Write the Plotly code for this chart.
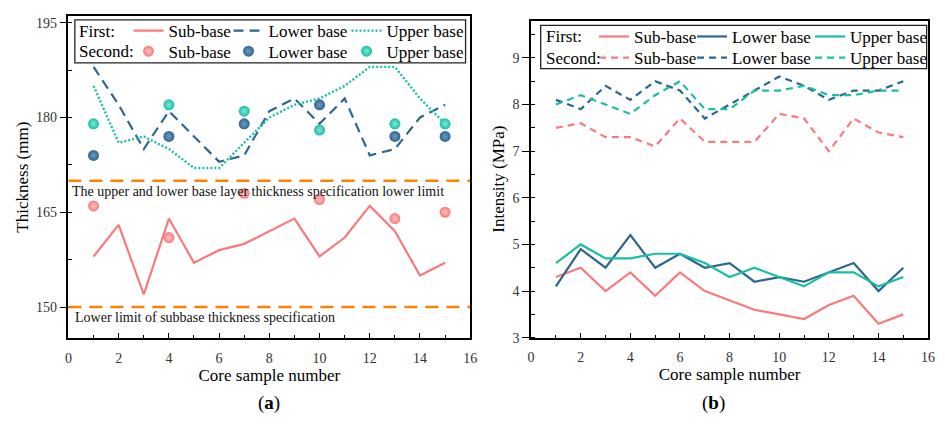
import plotly.graph_objects as go

W, H = 945, 424
FONT = "Liberation Serif, Times New Roman, serif"

# ---------------- data ----------------
samples = list(range(1, 16))
second_samples = [1, 4, 7, 10, 13, 15]

# Panel (a): thickness (mm)
thk_first_sub = [158, 163, 152, 164, 157, 159, 160, 162, 164, 158, 161, 166, 162, 155, 157]
thk_first_lower = [188, 182, 175, 181, 177, 173, 174, 181, 183, 179, 183, 174, 175, 180, 182]
thk_first_upper = [185, 176, 177, 175, 172, 172, 176, 180, 182, 183, 185, 188, 188, 183, 179]
thk_second_sub = [166, 161, 168, 167, 164, 165]
thk_second_lower = [174, 177, 179, 182, 177, 177]
thk_second_upper = [179, 182, 181, 178, 179, 179]
spec_upper_lower = 170
spec_subbase = 150
spec_upper_lower_text = "The upper and lower base layer thickness specification lower limit"
spec_subbase_text = "Lower limit of subbase thickness specification"

# Panel (b): intensity (MPa)
int_first_sub = [4.3, 4.5, 4.0, 4.4, 3.9, 4.4, 4.0, 3.8, 3.6, 3.5, 3.4, 3.7, 3.9, 3.3, 3.5]
int_first_lower = [4.1, 4.9, 4.5, 5.2, 4.5, 4.8, 4.5, 4.6, 4.2, 4.3, 4.2, 4.4, 4.6, 4.0, 4.5]
int_first_upper = [4.6, 5.0, 4.7, 4.7, 4.8, 4.8, 4.6, 4.3, 4.5, 4.3, 4.1, 4.4, 4.4, 4.1, 4.3]
int_second_sub = [7.5, 7.6, 7.3, 7.3, 7.1, 7.7, 7.2, 7.2, 7.2, 7.8, 7.7, 7.0, 7.7, 7.4, 7.3]
int_second_lower = [8.1, 7.9, 8.4, 8.1, 8.5, 8.3, 7.7, 8.0, 8.3, 8.6, 8.4, 8.1, 8.3, 8.3, 8.5]
int_second_upper = [8.0, 8.2, 8.0, 7.8, 8.2, 8.5, 7.9, 7.9, 8.3, 8.3, 8.4, 8.2, 8.2, 8.3, 8.3]

series_names = ["Sub-base", "Lower base", "Upper base"]
row_labels = ["First:", "Second:"]

# ---------------- style ----------------
PINK = "#F87A7C"
BLUE = "#2D6690"
TEAL = "#19BFA4"
ORANGE = "#FF8000"
PINK_HI = "#FFC4C4"
BLUE_HI = "#6E9CC2"
TEAL_HI = "#7FE8D6"


def px(x):
    return x / W


def py(y):
    return 1 - y / H


fig = go.Figure()

# ---- panel (a) ----
lw_a = [55, 73, 80]
fig.add_trace(go.Scatter(x=samples, y=thk_first_sub, name=series_names[0], mode="lines",
                         line=dict(color=PINK, width=2.2), legend="legend", legendwidth=lw_a[0],
                         xaxis="x", yaxis="y"))
fig.add_trace(go.Scatter(x=samples, y=thk_first_lower, name=series_names[1], mode="lines",
                         line=dict(color=BLUE, width=2.2, dash="10px,6px"), legend="legend",
                         legendwidth=lw_a[1], xaxis="x", yaxis="y"))
fig.add_trace(go.Scatter(x=samples, y=thk_first_upper, name=series_names[2], mode="lines",
                         line=dict(color=TEAL, width=2.4, dash="2px,2px"), legend="legend",
                         legendwidth=lw_a[2], xaxis="x", yaxis="y"))
for vals, col, hi, i in [(thk_second_sub, PINK, PINK_HI, 0), (thk_second_lower, BLUE, BLUE_HI, 1),
                         (thk_second_upper, TEAL, TEAL_HI, 2)]:
    fig.add_trace(go.Scatter(x=second_samples, y=vals, name=series_names[i], mode="markers",
                             marker=dict(color=col, size=11, line=dict(width=0),
                                         gradient=dict(type="radial", color=hi)),
                             legend="legend2", legendwidth=lw_a[i], xaxis="x", yaxis="y"))

# ---- panel (b) ----
lw_b = [53, 73, 80]
for vals, col, i in [(int_first_sub, PINK, 0), (int_first_lower, BLUE, 1), (int_first_upper, TEAL, 2)]:
    fig.add_trace(go.Scatter(x=samples, y=vals, name=series_names[i], mode="lines",
                             line=dict(color=col, width=2.2), legend="legend3", legendwidth=lw_b[i],
                             xaxis="x2", yaxis="y2"))
for vals, col, i in [(int_second_sub, PINK, 0), (int_second_lower, BLUE, 1), (int_second_upper, TEAL, 2)]:
    fig.add_trace(go.Scatter(x=samples, y=vals, name=series_names[i], mode="lines",
                             line=dict(color=col, width=2.2, dash="7px,5px"), legend="legend4",
                             legendwidth=lw_b[i], xaxis="x2", yaxis="y2"))

# ---- axes ----
tickfont = dict(family=FONT, size=14, color="#333")
titlefont = dict(family=FONT, size=17, color="black")
common_x = dict(range=[0, 16], tick0=0, dtick=2, ticks="inside", ticklen=5, tickwidth=1.3,
                tickcolor="black", minor=dict(dtick=1, tick0=0, ticks="inside", ticklen=3,
                                              tickwidth=1.3, tickcolor="black"),
                showline=True, linecolor="black", linewidth=1.5, mirror=True, showgrid=False,
                zeroline=False, tickfont=tickfont, ticklabelstandoff=6,
                title=dict(text="Core sample number", font=titlefont, standoff=4))
common_y = dict(ticks="outside", ticklen=7, tickwidth=1.3, tickcolor="black",
                showline=True, linecolor="black", linewidth=1.5, mirror=True, showgrid=False,
                zeroline=False, tickfont=tickfont)

fig.update_layout(
    xaxis=dict(domain=[px(65.2), px(471.7)], anchor="y", **common_x),
    yaxis=dict(domain=[py(344.3), py(15.7)], anchor="x", range=[145.1, 196], tick0=150, dtick=15,
               minor=dict(dtick=7.5, tick0=150, ticks="inside", ticklen=4, tickwidth=1.3,
                          tickcolor="black"),
               title=dict(text="Thickness (mm)", font=titlefont, standoff=3), **common_y),
    xaxis2=dict(domain=[px(533.3), px(935)], anchor="y2", **common_x),
    yaxis2=dict(domain=[py(344), py(20)], anchor="x2", range=[3, 9.8], tick0=3, dtick=1,
                minor=dict(dtick=0.5, tick0=3, ticks="inside", ticklen=4, tickwidth=1.3,
                           tickcolor="black"),
                title=dict(text="Intensity (MPa)", font=titlefont, standoff=4), **common_y),
)

legend_common = dict(orientation="h", xanchor="left", yanchor="middle", bgcolor="rgba(0,0,0,0)",
                     borderwidth=0, font=dict(family=FONT, size=17, color="black"),
                     itemwidth=30, traceorder="normal")
fig.update_layout(
    legend=dict(x=px(126), y=py(30.7), **legend_common),
    legend2=dict(x=px(126), y=py(51.7), **legend_common),
    legend3=dict(x=px(597), y=py(36.7), **legend_common),
    legend4=dict(x=px(597), y=py(58.3), **legend_common),
)

shapes = [
    # specification limit lines (panel a)
    dict(type="line", xref="x domain", yref="y", x0=0, x1=1, y0=spec_upper_lower, y1=spec_upper_lower,
         line=dict(color=ORANGE, width=2.5, dash="13px,8px")),
    dict(type="line", xref="x domain", yref="y", x0=0, x1=1, y0=spec_subbase, y1=spec_subbase,
         line=dict(color=ORANGE, width=2.5, dash="13px,8px")),
    # legend frames
    dict(type="rect", xref="paper", yref="paper", x0=px(71.7), x1=px(467), y0=py(63.3), y1=py(19.3),
         line=dict(color="#222", width=1.3)),
    dict(type="rect", xref="paper", yref="paper", x0=px(543), x1=px(933.5), y0=py(69), y1=py(25),
         line=dict(color="#222", width=1.3)),
]

annotations = [
    dict(xref="x domain", yref="y", x=0.005, y=spec_upper_lower, xanchor="left", yanchor="top",
         yshift=-1, text=spec_upper_lower_text, showarrow=False,
         font=dict(family=FONT, size=14, color="#111")),
    dict(xref="x domain", yref="y", x=0.012, y=spec_subbase, xanchor="left", yanchor="top",
         yshift=-1, text=spec_subbase_text, showarrow=False,
         font=dict(family=FONT, size=14, color="#111")),
    dict(xref="paper", yref="paper", x=px(74), y=py(30.7), xanchor="left", yanchor="middle",
         text=row_labels[0], showarrow=False, font=dict(family=FONT, size=17, color="black")),
    dict(xref="paper", yref="paper", x=px(74), y=py(51.7), xanchor="left", yanchor="middle",
         text=row_labels[1], showarrow=False, font=dict(family=FONT, size=17, color="black")),
    dict(xref="paper", yref="paper", x=px(546), y=py(36.7), xanchor="left", yanchor="middle",
         text=row_labels[0], showarrow=False, font=dict(family=FONT, size=17, color="black")),
    dict(xref="paper", yref="paper", x=px(546), y=py(58.3), xanchor="left", yanchor="middle",
         text=row_labels[1], showarrow=False, font=dict(family=FONT, size=17, color="black")),
    dict(xref="paper", yref="paper", x=px(268), y=py(411), xanchor="center", yanchor="middle",
         text="(<b>a</b>)", showarrow=False, font=dict(family=FONT, size=19, color="black")),
    dict(xref="paper", yref="paper", x=px(718), y=py(411), xanchor="center", yanchor="middle",
         text="(<b>b</b>)", showarrow=False, font=dict(family=FONT, size=19, color="black")),
]

fig.update_layout(
    width=W, height=H, autosize=False,
    margin=dict(l=0, r=0, t=0, b=0),
    paper_bgcolor="white", plot_bgcolor="white",
    font=dict(family=FONT, color="black"),
    shapes=shapes, annotations=annotations,
)

fig.write_html("out.html")
